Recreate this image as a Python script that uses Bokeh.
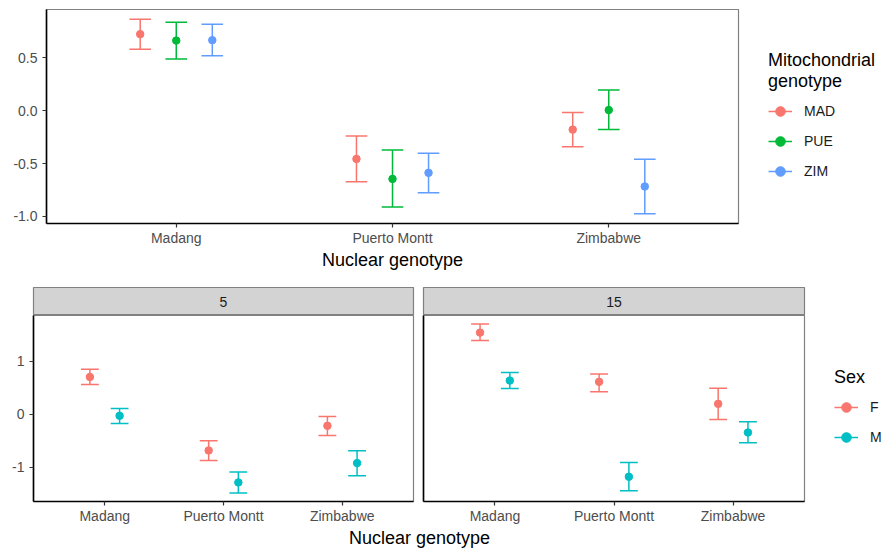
from bokeh.plotting import figure
from bokeh.models import (ColumnDataSource, FactorRange, Range1d, FixedTicker,
                          Legend, LegendItem, Label, PrintfTickFormatter)
from bokeh.transform import dodge
from bokeh.layouts import column, row
from bokeh.embed import file_html
from bokeh.resources import INLINE

# ---------------- data ----------------
nuclear = ["Madang", "Puerto Montt", "Zimbabwe"]

# top panel: mitochondrial genotype
mito_names = ["MAD", "PUE", "ZIM"]
mad_mean = [0.724, -0.456, -0.179]
mad_lo = [0.582, -0.673, -0.340]
mad_hi = [0.865, -0.239, -0.016]
pue_mean = [0.663, -0.645, 0.006]
pue_lo = [0.490, -0.912, -0.179]
pue_hi = [0.836, -0.371, 0.195]
zim_mean = [0.667, -0.588, -0.717]
zim_lo = [0.519, -0.777, -0.975]
zim_hi = [0.818, -0.403, -0.459]
top_yticks = [-1.0, -0.5, 0.0, 0.5]

# bottom panels: sex by facet (5, 15)
facets = ["5", "15"]
sex_names = ["F", "M"]
f5_mean = [0.700, -0.683, -0.219]
f5_lo = [0.558, -0.871, -0.401]
f5_hi = [0.846, -0.501, -0.044]
m5_mean = [-0.031, -1.285, -0.921]
m5_lo = [-0.175, -1.485, -1.159]
m5_hi = [0.107, -1.090, -0.689]
f15_mean = [1.535, 0.608, 0.194]
f15_lo = [1.385, 0.420, -0.100]
f15_hi = [1.698, 0.758, 0.489]
m15_mean = [0.633, -1.178, -0.345]
m15_lo = [0.483, -1.441, -0.539]
m15_hi = [0.784, -0.908, -0.144]
bottom_yticks = [-1, 0, 1]

mito_colors = ["#F8766D", "#00BA38", "#619CFF"]
sex_colors = ["#F8766D", "#00BFC4"]

FONT = "Liberation Sans"


def style(p, yticks, fmt, show_y=True):
    p.xgrid.visible = False
    p.ygrid.visible = False
    p.outline_line_color = "#808080"
    p.outline_line_width = 1.2
    p.background_fill_color = "white"
    p.border_fill_color = "white"
    for ax in list(p.xaxis) + list(p.yaxis):
        ax.axis_line_color = "black"
        ax.axis_line_width = 1.6
        ax.major_tick_line_color = "#333333"
        ax.major_tick_line_width = 1.2
        ax.major_tick_out = 4
        ax.major_tick_in = 0
        ax.minor_tick_line_color = None
        ax.major_label_text_font = FONT
        ax.major_label_text_font_size = "14px"
        ax.major_label_text_color = "#4D4D4D"
        ax.major_label_standoff = 2
        ax.axis_label_text_font = FONT
        ax.axis_label_text_font_style = "normal"
        ax.axis_label_text_font_size = "18px"
        ax.axis_label_text_color = "black"
    p.yaxis.major_label_standoff = 5
    p.yaxis.ticker = FixedTicker(ticks=yticks if show_y else [])
    p.yaxis.formatter = PrintfTickFormatter(format=fmt)


def make_source(means, los, his):
    return ColumnDataSource(dict(nuc=nuclear, mean=means, lo=los, hi=his))


def errorbars(p, src, offset, capw, color):
    xr = p.x_range
    v = p.segment(x0=dodge("nuc", offset, range=xr), y0="lo",
                  x1=dodge("nuc", offset, range=xr), y1="hi",
                  source=src, line_color=color, line_width=1.5)
    for key in ("lo", "hi"):
        p.segment(x0=dodge("nuc", offset - capw / 2, range=xr), y0=key,
                  x1=dodge("nuc", offset + capw / 2, range=xr), y1=key,
                  source=src, line_color=color, line_width=1.5)
    pt = p.scatter(x=dodge("nuc", offset, range=xr), y="mean", source=src,
                   size=7.5, fill_color=color, line_color=color)
    return [v, pt]


def yrange(lows, highs):
    lo = min(min(a) for a in lows)
    hi = max(max(a) for a in highs)
    pad = 0.05 * (hi - lo)
    return Range1d(lo - pad, hi + pad)


def blank(width, height):
    f = figure(width=width, height=height, output_backend="svg",
               toolbar_location=None, title=None,
               x_range=FactorRange(factors=nuclear), y_range=Range1d(-2, 2),
               x_axis_type=None, y_axis_type=None, min_border=0)
    f.xgrid.visible = False
    f.ygrid.visible = False
    f.outline_line_color = None
    f.background_fill_color = "white"
    f.border_fill_color = "white"
    return f


def legend_panel(width, height, names, sources, colors, title, loc):
    """A separate canvas holding the legend (hidden key renderers)."""
    f = blank(width, height)
    items = []
    for name, src, col in zip(names, sources, colors):
        xr = f.x_range
        seg = f.segment(x0=dodge("nuc", 0, range=xr), y0="lo",
                        x1=dodge("nuc", 0, range=xr), y1="hi", source=src,
                        line_color=col, line_width=1.5, visible=False)
        pt = f.scatter(x=dodge("nuc", 0, range=xr), y="mean", source=src,
                       size=7.5, fill_color=col, line_color=col, visible=False)
        items.append(LegendItem(label=name, renderers=[seg, pt]))
    leg = Legend(items=items, title=title, location=loc)
    leg.border_line_color = None
    leg.background_fill_alpha = 0
    leg.inactive_fill_alpha = 0
    leg.padding = 0
    leg.margin = 0
    leg.spacing = 0
    leg.glyph_width = 24
    leg.glyph_height = 30
    leg.label_height = 30
    leg.label_standoff = 12
    leg.label_text_font = FONT
    leg.label_text_font_size = "14px"
    leg.label_text_color = "#1A1A1A"
    leg.title_text_font = FONT
    leg.title_text_font_size = "18px"
    leg.title_text_font_style = "normal"
    leg.title_text_color = "black"
    leg.title_standoff = 4
    leg.click_policy = "none"
    f.add_layout(leg)
    return f


# ---------------- top figure ----------------
top = figure(width=743, height=273, output_backend="svg", toolbar_location=None,
             title=None,
             x_range=FactorRange(factors=nuclear, range_padding=0.1,
                                 range_padding_units="absolute"),
             y_range=yrange([mad_lo, pue_lo, zim_lo], [mad_hi, pue_hi, zim_hi]),
             min_border=0, min_border_left=46, min_border_right=5,
             min_border_top=9, min_border_bottom=50)
style(top, top_yticks, "%.1f")
top.xaxis.axis_label = "Nuclear genotype"
top.xaxis.axis_label_standoff = 1

top_sources = [make_source(mad_mean, mad_lo, mad_hi),
               make_source(pue_mean, pue_lo, pue_hi),
               make_source(zim_mean, zim_lo, zim_hi)]
offsets = [-1 / 6, 0, 1 / 6]
for src, off, col in zip(top_sources, offsets, mito_colors):
    errorbars(top, src, off, 0.1, col)

leg_top = legend_panel(138, 273, mito_names, top_sources, mito_colors,
                       "Mitochondrial\ngenotype", (25, 37))

# ---------------- bottom facets ----------------
bot_y = yrange([f5_lo, m5_lo, f15_lo, m15_lo], [f5_hi, m5_hi, f15_hi, m15_hi])


def strip(text, width, left, right):
    s = figure(width=width, height=42, output_backend="svg", toolbar_location=None,
               title=None, x_range=Range1d(0, 1), y_range=Range1d(0, 1),
               x_axis_type=None, y_axis_type=None, min_border=0,
               min_border_left=left, min_border_right=right, min_border_top=14,
               min_border_bottom=0)
    s.xgrid.visible = False
    s.ygrid.visible = False
    s.background_fill_color = "#D3D3D3"
    s.border_fill_color = "white"
    s.outline_line_color = "#808080"
    s.outline_line_width = 1.2
    s.add_layout(Label(x=0.5, y=0.5, text=text, text_align="center",
                       text_baseline="middle", text_font=FONT,
                       text_font_size="14px", text_color="#1A1A1A"))
    return s


def panel(width, left, right, show_y):
    p = figure(width=width, height=212, output_backend="svg", toolbar_location=None,
               title=None,
               x_range=FactorRange(factors=nuclear, range_padding=0.1,
                                   range_padding_units="absolute"),
               y_range=bot_y, min_border=0,
               min_border_left=left, min_border_right=right, min_border_top=0,
               min_border_bottom=26)
    style(p, bottom_yticks, "%d", show_y)
    return p


p5 = panel(418, 33, 5, True)
p15 = panel(391, 5, 5, False)
s5 = strip(facets[0], 418, 33, 5)
s15 = strip(facets[1], 391, 5, 5)

sex_offsets = [-0.125, 0.125]
src5 = [make_source(f5_mean, f5_lo, f5_hi), make_source(m5_mean, m5_lo, m5_hi)]
src15 = [make_source(f15_mean, f15_lo, f15_hi), make_source(m15_mean, m15_lo, m15_hi)]
for src, off, col in zip(src5, sex_offsets, sex_colors):
    errorbars(p5, src, off, 0.15, col)
for src, off, col in zip(src15, sex_offsets, sex_colors):
    errorbars(p15, src, off, 0.15, col)

leg_bot = legend_panel(72, 254, sex_names, src15, sex_colors, "Sex", (25, 75))

# shared x-axis title for the facets
xl = figure(width=881, height=22, output_backend="svg", toolbar_location=None,
            title=None, x_range=Range1d(0, 881), y_range=Range1d(0, 22),
            x_axis_type=None, y_axis_type=None, min_border=0)
xl.xgrid.visible = False
xl.ygrid.visible = False
xl.outline_line_color = None
xl.border_fill_color = "white"
xl.background_fill_color = "white"
xl.add_layout(Label(x=419, y=12, text="Nuclear genotype", text_align="center",
                    text_baseline="middle", text_font=FONT,
                    text_font_size="18px", text_color="black"))

layout = column(row(top, leg_top),
                row(column(s5, p5), column(s15, p15), leg_bot),
                xl)

open("out.html", "w").write(file_html(layout, INLINE))
